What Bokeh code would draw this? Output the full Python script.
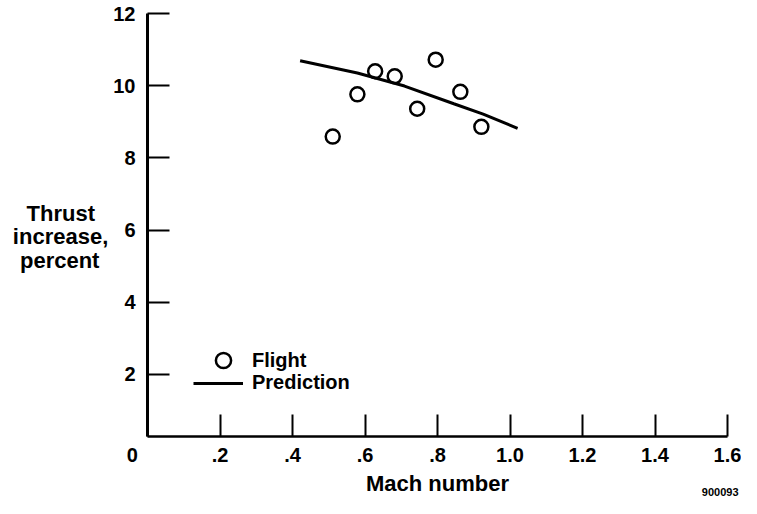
from bokeh.plotting import figure
from bokeh.models import Range1d, FixedTicker, Label, Legend, LegendItem
from bokeh.embed import file_html
from bokeh.resources import INLINE

# Data
flight_mach = [0.511, 0.579, 0.628, 0.682, 0.744, 0.795, 0.863, 0.921]
flight_thrust = [8.59, 9.76, 10.40, 10.26, 9.36, 10.72, 9.83, 8.86]
pred_mach = [0.421, 0.579, 0.709, 0.845, 0.926, 1.021]
pred_thrust = [10.69, 10.35, 9.99, 9.50, 9.21, 8.82]

x_ticks = [0, 0.2, 0.4, 0.6, 0.8, 1.0, 1.2, 1.4, 1.6]
x_tick_labels = ["0\u2007\u2007\u2009\u2009", ".2", ".4", ".6", ".8", "1.0", "1.2", "1.4", "1.6"]
y_ticks = [2, 4, 6, 8, 10, 12]
y_tick_labels = ["2", "4", "6", "8", "10", "12"]

FONT = "Liberation Sans"

p = figure(width=741, height=498, x_range=Range1d(0, 1.6), y_range=Range1d(0.28, 12),
           output_backend="svg", toolbar_location=None,
           min_border_left=147, min_border_right=14, min_border_top=13, min_border_bottom=62)
p.outline_line_color = None
p.xgrid.grid_line_color = None
p.ygrid.grid_line_color = None
p.background_fill_color = "white"
p.border_fill_color = "white"

for ax in (p.xaxis[0], p.yaxis[0]):
    ax.axis_line_color = "black"
    ax.major_tick_line_color = "black"
    ax.major_tick_line_width = 2
    ax.major_tick_in = 22
    ax.major_tick_out = 0
    ax.minor_tick_line_color = None
    ax.major_label_text_font = FONT
    ax.major_label_text_font_style = "bold"
    ax.major_label_text_font_size = "20px"
    ax.major_label_text_color = "black"
    ax.axis_label_text_font = FONT
    ax.axis_label_text_font_style = "bold"
    ax.axis_label_text_font_size = "22px"
    ax.axis_label_text_color = "black"

xa = p.xaxis[0]
xa.axis_line_width = 2.5
xa.ticker = FixedTicker(ticks=x_ticks)
xa.major_label_overrides = {t: l for t, l in zip(x_ticks, x_tick_labels)}
xa.major_label_standoff = 7
xa.axis_label = "Mach number"
xa.axis_label_standoff = 2

ya = p.yaxis[0]
ya.axis_line_width = 3
ya.ticker = FixedTicker(ticks=y_ticks)
ya.major_label_overrides = {t: l for t, l in zip(y_ticks, y_tick_labels)}
ya.major_label_standoff = 12
ya.axis_label = "\nThrust\u2009\u2009\u2009\nincrease,\npercent\u2009\u2009"
ya.axis_label_orientation = "horizontal"
ya.axis_label_text_line_height = 0.95
ya.axis_label_standoff = 2

pred = p.line(pred_mach, pred_thrust, line_color="black", line_width=3)
fl = p.scatter(flight_mach, flight_thrust, marker="circle", size=14, fill_color=None,
               line_color="black", line_width=2.5)

leg1 = Legend(items=[LegendItem(label="Flight", renderers=[fl])], location=(56, 57),
              glyph_width=40, glyph_height=38, label_standoff=9, padding=0, margin=0,
              spacing=0, border_line_color=None, background_fill_alpha=0,
              label_text_font=FONT, label_text_font_style="bold", label_text_font_size="20px",
              label_text_color="black")
leg2 = Legend(items=[LegendItem(label="Prediction", renderers=[pred])], location=(46, 42),
              glyph_width=50, glyph_height=20, label_standoff=9, padding=0, margin=0,
              spacing=0, border_line_color=None, background_fill_alpha=0,
              label_text_font=FONT, label_text_font_style="bold", label_text_font_size="20px",
              label_text_color="black")
p.add_layout(leg1, "center")
p.add_layout(leg2, "center")

p.add_layout(Label(x=1.6, y=0.28, text="900093", x_offset=11, y_offset=-55, text_align="right",
                   text_baseline="middle", text_font=FONT, text_font_style="bold",
                   text_font_size="11px", text_color="black"), "above")

open("out.html", "w").write(file_html(p, INLINE))
